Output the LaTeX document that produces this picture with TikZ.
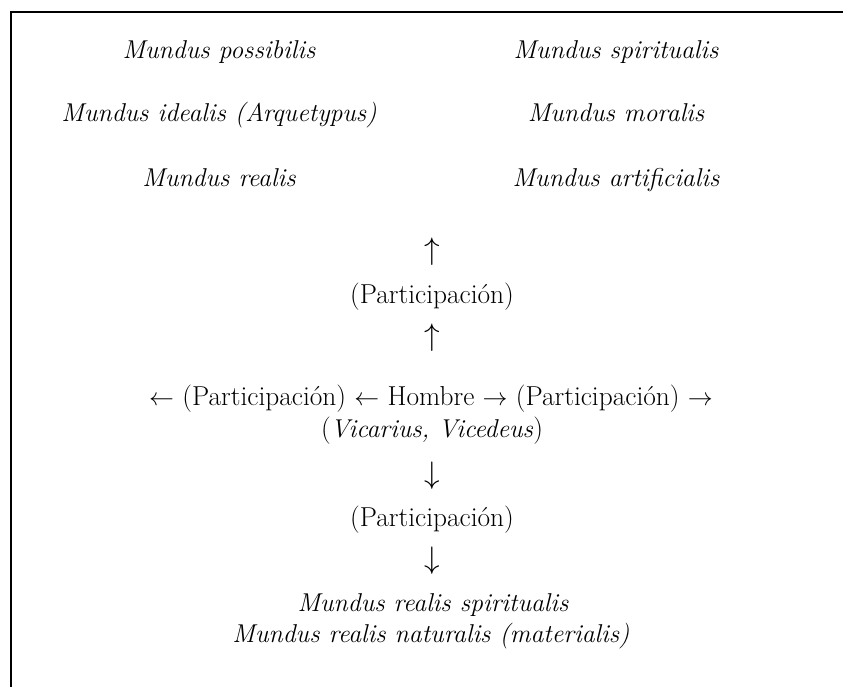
\documentclass[tikz,border=0pt]{standalone}
\usepackage{fontspec}
\usepackage{graphicx}
\begin{document}
\begin{tikzpicture}[x=1pt,y=-1pt,
  txt/.style={inner sep=0pt, font=\fontsize{27.4}{32}\selectfont},
  it/.style={inner sep=0pt, font=\fontsize{25.8}{30}\selectfont\itshape},
  varrow/.style={inner sep=0pt, font=\fontsize{24.6}{29}\selectfont},
  frameline/.style={line width=1.4pt, black}]
\useasboundingbox (0,0) rectangle (843,687);
\coordinate (tr) at (843,12);
\coordinate (tl) at (11,12);
\coordinate (bl) at (11,687);
\draw[frameline] (tr) -- (tl) -- (bl);
% left column
\node[it,anchor=base] (mpos) at (219,59) {Mundus possibilis};
\node[it,anchor=base] (mid) at (219,122) {Mundus idealis (Arquetypus)};
\node[it,anchor=base] (mre) at (219,187) {Mundus realis};
% right column
\node[it,anchor=base] (msp) at (616,59) {Mundus spiritualis};
\node[it,anchor=base] (mmo) at (616,122) {Mundus moralis};
\node[it,anchor=base] (mar) at (616,187) {Mundus artificialis};
% centre column
\node[varrow] (up1) at (432,251.5) {\scalebox{1.25}{$\uparrow$}};
\node[txt,anchor=base] (part1) at (432,303) {(Participación)};
\node[varrow] (up2) at (432,337.5) {\scalebox{1.25}{$\uparrow$}};
\node[txt,anchor=base] (main) at (431,405) {$\leftarrow$ (Participación) $\leftarrow$ Hombre $\rightarrow$ (Participación) $\rightarrow$};
\node[txt,anchor=base] (vic) at (432,437) {(\textit{\fontsize{25.8}{30}\selectfont Vicarius, Vicedeus})};
\node[varrow] (down1) at (432,476) {\scalebox{1.25}{$\downarrow$}};
\node[txt,anchor=base] (part2) at (432,526) {(Participación)};
\node[varrow] (down2) at (432,561) {\scalebox{1.25}{$\downarrow$}};
\node[it,anchor=base] (mrs) at (433,611) {Mundus realis spiritualis};
\node[it,anchor=base] (mrn) at (431,642) {Mundus realis naturalis (materialis)};
\end{tikzpicture}
\end{document}
